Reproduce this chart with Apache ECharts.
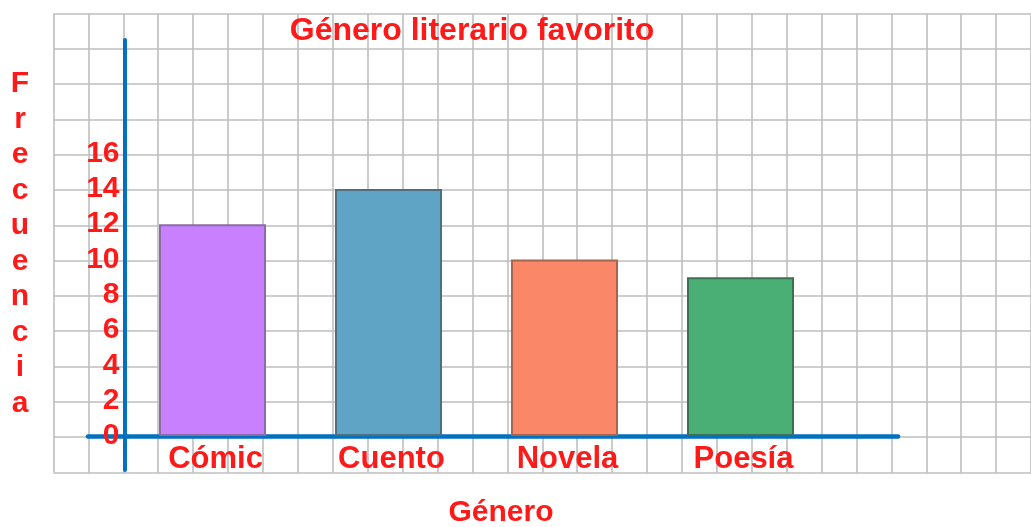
<!DOCTYPE html>
<html>
<head>
<meta charset="utf-8">
<script src="https://cdn.jsdelivr.net/npm/echarts@6/dist/echarts.min.js"></script>
<style>
html,body{margin:0;padding:0;background:#fff;}
#c{width:1031px;height:527px;}
</style>
</head>
<body>
<div id="c"></div>
<script>
// ---- data ----
const categories = ['Cómic', 'Cuento', 'Novela', 'Poesía'];
const frecuencias = [12, 14, 10, 9];
const yTickLabels = [0, 2, 4, 6, 8, 10, 12, 14, 16];
const chartTitle = 'Género literario favorito';
const xName = 'Género';
const yName = 'Frecuencia';

// ---- styles ----
const RED = '#FF1A1A';
const BLUE = '#0070C0';
const FONT = '"Liberation Sans", Arial, sans-serif';
const fills = ['#C980FF', '#5FA3C5', '#FA8767', '#4AAF74'];
const borders = ['#8C6BA6', '#4F6E7E', '#A5654F', '#3E6F55'];

const cell = 35.3;
const unit = cell / 2; // px per frequency unit
const zeroY = 436;
const yMax = 22;

const chart = echarts.init(document.getElementById('c'), null, {renderer: 'canvas'});

chart.setOption({
  animation: false,
  backgroundColor: '#ffffff',
  title: [
    {text: chartTitle, left: 472, top: 15, textAlign: 'center', padding: 0,
     textStyle: {color: RED, fontFamily: FONT, fontWeight: 'bold', fontSize: 32, lineHeight: 32}},
    {text: yName.split('').join('\n'), left: 20, top: 66, textAlign: 'center', padding: 0,
     textStyle: {color: RED, fontFamily: FONT, fontWeight: 'bold', fontSize: 30, lineHeight: 35.5}},
    {text: xName, left: 501, top: 498, textAlign: 'center', padding: 0,
     textStyle: {color: RED, fontFamily: FONT, fontWeight: 'bold', fontSize: 30, lineHeight: 30}}
  ],
  grid: [
    {left: 53.5, top: 13.5, width: 28 * cell, height: 13 * cell, containLabel: false},
    {left: 124.5, top: zeroY - yMax * unit, width: 704, height: yMax * unit, containLabel: false},
    {left: 124.5, top: 40, width: 10, height: 430, containLabel: false},
    {left: 88, top: 300, width: 810, height: zeroY - 300, containLabel: false}
  ],
  xAxis: [
    {gridIndex: 0, type: 'value', min: 0, max: 28, interval: 1,
     axisLine: {show: false}, axisTick: {show: false}, axisLabel: {show: false},
     splitLine: {show: true, lineStyle: {color: '#BEBEBE', width: 1.6}}},
    {gridIndex: 1, type: 'category', data: categories,
     axisLine: {show: false}, axisTick: {show: false}, splitLine: {show: false},
     axisLabel: {color: RED, fontFamily: FONT, fontWeight: 'bold', fontSize: 31, lineHeight: 31, margin: 8,
       padding: [0, 0, 0, 6]}},
    {gridIndex: 2, type: 'value', min: 0, max: 1, show: false},
    {gridIndex: 3, type: 'value', min: 0, max: 1,
     axisLine: {show: true, onZero: false, lineStyle: {color: BLUE, width: 4.5}},
     axisTick: {show: false}, axisLabel: {show: false}, splitLine: {show: false}}
  ],
  yAxis: [
    {gridIndex: 0, type: 'value', min: 0, max: 13, interval: 1,
     axisLine: {show: false}, axisTick: {show: false}, axisLabel: {show: false},
     splitLine: {show: true, lineStyle: {color: '#BEBEBE', width: 1.6}}},
    {gridIndex: 1, type: 'value', min: 0, max: yMax, interval: 2,
     axisLine: {show: false}, axisTick: {show: false}, splitLine: {show: false},
     axisLabel: {color: RED, fontFamily: FONT, fontWeight: 'bold', fontSize: 30, margin: 5,
       padding: [6, 0, 0, 0],
       formatter: v => (yTickLabels.indexOf(v) >= 0 ? String(v) : '')}},
    {gridIndex: 2, type: 'value', min: 0, max: 1,
     axisLine: {show: true, onZero: false, lineStyle: {color: BLUE, width: 4}},
     axisTick: {show: false}, axisLabel: {show: false}, splitLine: {show: false}},
    {gridIndex: 3, type: 'value', min: 0, max: 1, show: false}
  ],
  series: [
    {type: 'bar', xAxisIndex: 1, yAxisIndex: 1, barWidth: 107, z: 5,
     data: frecuencias.map((v, i) => ({value: v,
       itemStyle: {color: fills[i], borderColor: borders[i], borderWidth: 2}}))}
  ]
});
</script>
</body>
</html>
